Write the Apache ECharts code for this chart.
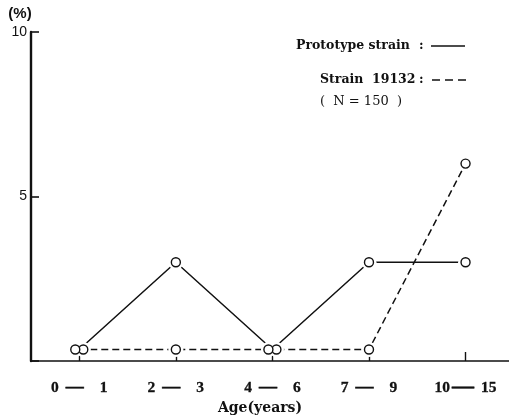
<!DOCTYPE html>
<html>
<head>
<meta charset="utf-8">
<script src="https://cdn.jsdelivr.net/npm/echarts@6/dist/echarts.min.js"></script>
<style>
  html, body { margin: 0; padding: 0; background: #fff; }
  #chart { width: 509px; height: 417px; }
</style>
</head>
<body>
<div id="chart"></div>
<script>
// Age groups and infection rates (%) per strain
const ageGroups = ['0 \u2014 1', '2 \u2014 3', '4 \u2014 6', '7 \u2014 9', '10 \u2014 15'];
const prototypeStrain = [0.35, 3, 0.35, 3, 3];
const strain19132 = [0.35, 0.35, 0.35, 0.35, 6];
const yTicks = [5, 10];

const SERIF = '"DejaVu Serif", "Liberation Serif", serif';
const TIMES = '"Liberation Serif", "DejaVu Serif", serif';
const SANS = '"Liberation Sans", Arial, sans-serif';
const INK = '#111';
const groupIndex = ageGroups.map((_, i) => i);

// When both strains share a value, nudge the markers apart so both circles stay visible
function markerData(values, other, side) {
  return values.map((v, i) => ({
    value: [i, v],
    symbolOffset: v === other[i] ? [side * 4, 0] : [0, 0]
  }));
}

function strainSeries(name, values, other, side, dash) {
  const data = markerData(values, other, side);
  return [
    {
      // line with a white halo around each point so the line stops short of the circle
      name: name,
      type: 'line',
      data: data,
      symbol: 'circle',
      symbolSize: 15,
      itemStyle: { color: '#fff', borderWidth: 0 },
      lineStyle: { color: INK, width: 1.5, type: dash },
      z: 2,
      silent: true
    },
    {
      // open circle markers
      name: name + ' markers',
      type: 'line',
      data: data,
      symbol: 'circle',
      symbolSize: 9,
      itemStyle: { color: '#fff', borderColor: INK, borderWidth: 1.4 },
      lineStyle: { opacity: 0, width: 0 },
      z: 3,
      silent: true
    }
  ];
}

// Age range label: "from", a long dash, "to"
function ageLabel(v) {
  const [from, to] = ageGroups[v].split('\u2014').map(s => s.trim());
  const dashStyle = from.length > 1 ? 'dw' : 'd';
  return `{n|${from}}{${dashStyle}|\u2014}{n|${to}}`;
}

function legendText(x, y, text, font) {
  return {
    type: 'text', x: x, y: y,
    style: { text: text, font: font, fill: INK, verticalAlign: 'middle' }
  };
}

const dashToken = {
  fontFamily: TIMES, fontWeight: 'bold', lineHeight: 16, color: INK,
  textBorderColor: INK, textBorderWidth: 0.5
};

const chart = echarts.init(document.getElementById('chart'), null, { renderer: 'canvas' });

chart.setOption({
  animation: false,
  backgroundColor: '#fff',
  grid: { left: 31, top: 32, right: 0, height: 329, containLabel: false, outerBoundsMode: 'none' },
  xAxis: {
    type: 'value',
    min: -0.5,
    max: 4.45,
    axisLine: { onZero: false, lineStyle: { color: INK, width: 1.6 } },
    axisTick: { inside: true, length: 9, customValues: groupIndex, lineStyle: { color: INK, width: 1.4 } },
    axisLabel: {
      color: INK, margin: 19,
      customValues: groupIndex,
      formatter: ageLabel,
      rich: {
        n: {
          fontFamily: TIMES, fontWeight: 'bold', fontSize: 15.5, lineHeight: 16, color: INK,
          textBorderColor: INK, textBorderWidth: 0.3
        },
        d: Object.assign({}, dashToken, { fontSize: 18, padding: [0, 16, 2, 7] }),
        dw: Object.assign({}, dashToken, { fontSize: 22, padding: [0, 7, 2, 2] })
      }
    },
    name: 'Age(years)',
    nameLocation: 'middle',
    nameGap: 40,
    nameMoveOverlap: false,
    nameTextStyle: { color: INK, fontFamily: SERIF, fontWeight: 'bold', fontSize: 14, padding: [0, 20, 0, 0] },
    splitLine: { show: false }
  },
  yAxis: {
    type: 'value',
    min: 0,
    max: 10,
    interval: 5,
    axisLine: { show: true, onZero: false, lineStyle: { color: INK, width: 2.4 } },
    axisTick: { show: true, inside: true, length: 8, lineStyle: { color: INK, width: 1.6 } },
    axisLabel: {
      color: INK, fontFamily: SANS, fontSize: 14, margin: 4,
      formatter: v => (yTicks.includes(v) ? String(v) : '')
    },
    name: '(%)',
    nameLocation: 'end',
    nameGap: 11,
    nameTextStyle: { color: INK, fontFamily: SANS, fontWeight: 'bold', fontSize: 15, padding: [0, 22, 0, 0] },
    splitLine: { show: false }
  },
  series: [
    ...strainSeries('Prototype strain', prototypeStrain, strain19132, 1, 'solid'),
    ...strainSeries('Strain 19132', strain19132, prototypeStrain, -1, [7, 4])
  ],
  graphic: [
    legendText(296, 46, 'Prototype strain', 'bold 12.5px ' + SERIF),
    legendText(419, 46, ':', 'bold 12.5px ' + SERIF),
    {
      type: 'line', shape: { x1: 431, y1: 46, x2: 465, y2: 46 },
      style: { stroke: INK, lineWidth: 1.6 }
    },
    legendText(320, 80, 'Strain  19132', 'bold 12.5px ' + SERIF),
    legendText(419, 80, ':', 'bold 12.5px ' + SERIF),
    {
      type: 'line', shape: { x1: 432, y1: 80, x2: 466, y2: 80 },
      style: { stroke: INK, lineWidth: 1.6, lineDash: [8, 5] }
    },
    legendText(320, 102, '(  N = 150  )', '13px ' + SERIF)
  ]
});
</script>
</body>
</html>
